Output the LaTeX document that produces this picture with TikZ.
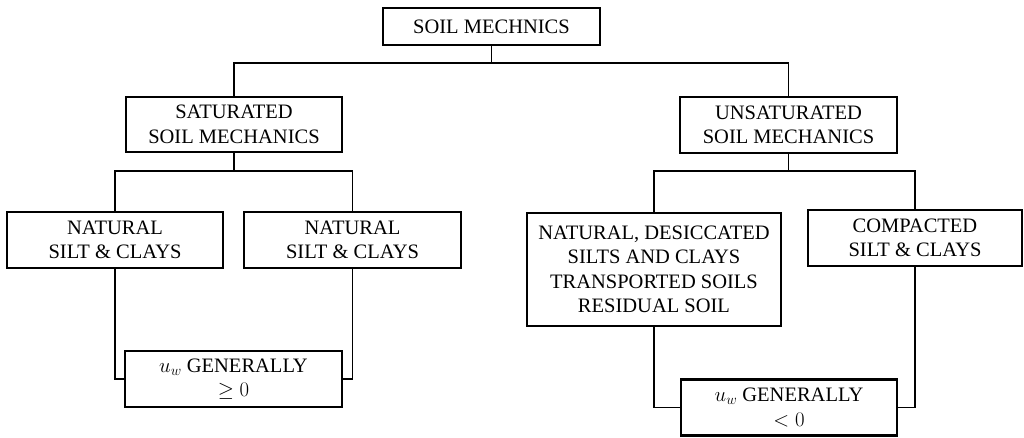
\documentclass[tikz,border=0pt]{standalone}
\usepackage{fontspec}
\setmainfont{Liberation Serif}
\begin{document}
\begin{tikzpicture}[x=1pt,y=-1pt,
  box/.style={draw, line width=2.2pt, inner sep=0pt, align=center,
    font=\fontsize{20.5}{24.5}\selectfont},
  conn/.style={line width=1.5pt}]
\useasboundingbox (0,0) rectangle (1024,438);
\node[box, minimum width=217pt, minimum height=37pt] (top) at (491.5,26.5) {SOIL MECHNICS};
\node[box, minimum width=216pt, minimum height=55pt] (sat) at (234,124.5) {SATURATED\\SOIL MECHANICS};
\node[box, minimum width=217pt, minimum height=56pt] (unsat) at (788.5,125) {UNSATURATED\\SOIL MECHANICS};
\node[box, minimum width=216pt, minimum height=56pt] (n1) at (115,240) {NATURAL\\SILT \& CLAYS};
\node[box, minimum width=217pt, minimum height=56pt] (n2) at (352.5,240) {NATURAL\\SILT \& CLAYS};
\node[box, minimum width=254pt, minimum height=113pt] (des) at (654,269.5) {NATURAL, DESICCATED\\SILTS AND CLAYS\\TRANSPORTED SOILS\\RESIDUAL SOIL};
\node[box, minimum width=214pt, minimum height=56pt] (comp) at (915,238) {COMPACTED\\SILT \& CLAYS};
\node[box, minimum width=217pt, minimum height=56pt] (b1) at (233.5,379) {$u_w$ GENERALLY\\$\geq 0$};
\node[box, minimum width=216pt, minimum height=56pt] (b2) at (789,407.5) {$u_w$ GENERALLY\\$< 0$};
\coordinate (j0) at (491.5,63);
\coordinate (j1) at (234,171);
\coordinate (j2) at (788.5,171);
\draw[conn] (top.south) -- (j0);
\draw[conn] (sat.north) |- (j0) -| (unsat.north);
\draw[conn] (sat.south) -- (j1);
\draw[conn] (n1.north) |- (j1) -| (n2.north);
\draw[conn] (unsat.south) -- (j2);
\draw[conn] (des.north) |- (j2) -| (comp.north);
\draw[conn] (n1.south) |- (b1.west);
\draw[conn] (n2.south) |- (b1.east);
\draw[conn] (des.south) |- (b2.west);
\draw[conn] (comp.south) |- (b2.east);
\end{tikzpicture}
\end{document}
